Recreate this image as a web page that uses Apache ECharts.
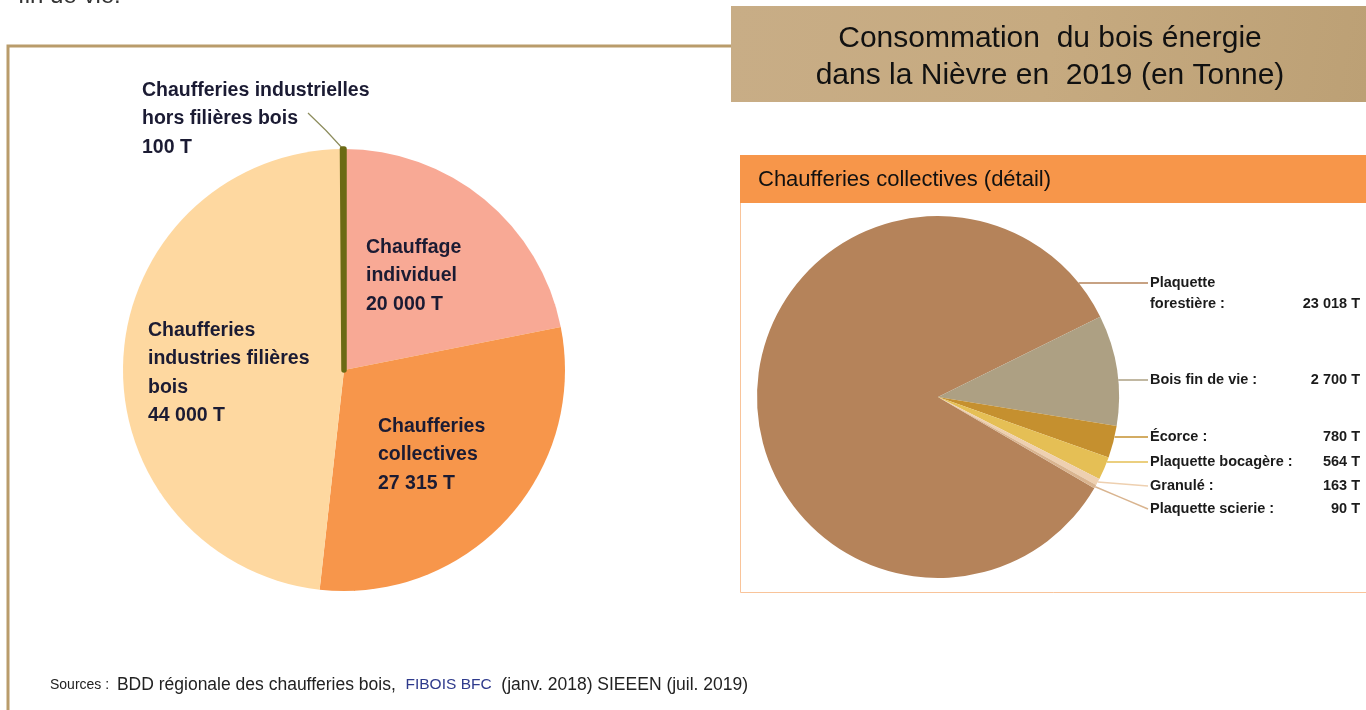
<!DOCTYPE html>
<html>
<head>
<meta charset="utf-8">
<script src="https://cdn.jsdelivr.net/npm/echarts@6/dist/echarts.min.js"></script>
<style>
html,body{margin:0;padding:0;background:#fff;}
#c{width:1366px;height:710px;}
</style>
</head>
<body>
<div id="c"></div>
<script>
// ---- Data ----
const mainNames = ["Chauffage individuel", "Chaufferies collectives", "Chaufferies industries filières bois", "Chaufferies industrielles hors filières bois"];
const mainLabels = ["Chauffage\nindividuel", "Chaufferies\ncollectives", "Chaufferies\nindustries filières\nbois", "Chaufferies industrielles\nhors filières bois"];
const mainValues = [20000, 27315, 44000, 100];
const mainColors = ["#F8A995", "#F7964B", "#FED8A0", "#6B6A14"];

const detailNames = ["Plaquette forestière", "Bois fin de vie", "Écorce", "Plaquette bocagère", "Granulé", "Plaquette scierie"];
const detailLabels = ["Plaquette\nforestière :", "Bois fin de vie :", "Écorce :", "Plaquette bocagère :", "Granulé :", "Plaquette scierie :"];
const detailValues = [23018, 2700, 780, 564, 163, 90];
const detailColors = ["#B5835A", "#ADA083", "#C5902F", "#E5BF55", "#EED0B0", "#D9B48F"];

const titleText = "Consommation  du bois énergie\ndans la Nièvre en  2019 (en Tonne)";
const panelTitle = "Chaufferies collectives (détail)";

// ---- Helpers ----
function fmt(v) { return String(v).replace(/\B(?=(\d{3})+(?!\d))/g, ' ') + ' T'; }

// layout constants
const L = { cx: 344, cy: 370, r: 221 };
const R = { cx: 938, cy: 397, r: 181 };
const mainLabelPos = [[366, 232], [378, 411], [148, 315], [142, 75]];
const detailLabelX = 1150;
const detailLineY = [283, 380, 437, 462, 486, 509];
const LH = 21;

const chart = echarts.init(document.getElementById('c'));

const mainData = mainValues.map((v, i) => {
  const item = {
    name: mainNames[i], value: v,
    itemStyle: { color: mainColors[i], borderWidth: 0 }
  };
  if (i === 3) {
    item.itemStyle = { color: mainColors[i], borderColor: mainColors[i], borderWidth: 5.5 };
    item.label = { position: 'outside' };
    item.labelLine = { show: true, lineStyle: { color: '#8C8C5C', width: 1.2 } };
  }
  return item;
});

const detailData = detailValues.map((v, i) => ({
  name: detailNames[i], value: v,
  itemStyle: { color: detailColors[i], borderWidth: 0 },
  labelLine: { show: true, lineStyle: { color: detailColors[i], width: 1.5 } }
}));

function arcXAtY(y) { return R.cx + Math.sqrt(R.r * R.r - (y - R.cy) * (y - R.cy)); }

const option = {
  animation: false,
  backgroundColor: '#fff',
  graphic: [
    { type: 'text', left: 18, top: -16, style: { text: 'fin de vie.', fontSize: 24, fill: '#333', fontFamily: 'Liberation Sans' } },
    { type: 'polyline', shape: { points: [[8, 712], [8, 46], [731, 46]] }, style: { stroke: '#B99C6B', lineWidth: 3, fill: null }, z: 1 },
    { type: 'rect', shape: { x: 731, y: 6, width: 636, height: 96 },
      style: { fill: new echarts.graphic.LinearGradient(0, 0, 1, 1, [
        { offset: 0, color: '#C8AD86' }, { offset: 0.5, color: '#C6AA80' }, { offset: 1, color: '#BCA075' }]) }, z: 2 },
    { type: 'text', x: 1050, y: 57, z: 3,
      style: { text: titleText, fontSize: 30, lineHeight: 37, fill: '#111', align: 'center', verticalAlign: 'middle', fontFamily: 'Liberation Sans' } },
    { type: 'rect', shape: { x: 740, y: 155, width: 626, height: 48 }, style: { fill: '#F7964A' }, z: 2 },
    { type: 'text', x: 758, y: 180, z: 3,
      style: { text: panelTitle, fontSize: 22, fill: '#111', verticalAlign: 'middle', fontFamily: 'Liberation Sans' } },
    { type: 'polyline', shape: { points: [[740.5, 203], [740.5, 592.5], [1366, 592.5]] }, style: { stroke: '#F9C49A', lineWidth: 1, fill: null }, z: 1 },
    { type: 'text', x: 50, y: 685, z: 3,
      style: { rich: {
          s: { fontSize: 14, fill: '#222', fontFamily: 'Liberation Sans' },
          t: { fontSize: 17.5, fill: '#222', fontFamily: 'Liberation Sans' },
          b: { fontSize: 15.5, fill: '#2E3A8C', fontFamily: 'Liberation Sans' } },
        text: '{s|Sources :  }{t|BDD régionale des chaufferies bois,  }{b|FIBOIS BFC}{t|  (janv. 2018) SIEEEN (juil. 2019)}',
        verticalAlign: 'middle' } }
  ],
  series: [
    {
      type: 'pie',
      center: [L.cx, L.cy],
      radius: [0, L.r],
      startAngle: 90,
      clockwise: true,
      avoidLabelOverlap: false,
      data: mainData,
      label: {
        show: true,
        position: 'inside',
        color: '#1B1B33',
        fontSize: 19.5,
        fontWeight: 'bold',
        lineHeight: 28.5,
        fontFamily: 'Liberation Sans',
        align: 'left',
        formatter: p => mainLabels[p.dataIndex] + '\n' + fmt(p.value)
      },
      labelLayout: p => {
        const pos = mainLabelPos[p.dataIndex];
        const o = { x: pos[0], y: pos[1] + 1, align: 'left', verticalAlign: 'top' };
        if (p.dataIndex === 3) {
          o.labelLinePoints = [[L.cx, L.cy - L.r + 1], [326, 130.5], [308, 113]];
        }
        return o;
      }
    },
    {
      type: 'pie',
      center: [R.cx, R.cy],
      radius: [0, R.r],
      startAngle: 329.7,
      clockwise: true,
      avoidLabelOverlap: false,
      data: detailData,
      label: {
        show: true,
        position: 'outside',
        fontFamily: 'Liberation Sans',
        fontSize: 14.5,
        color: '#1B1B1B',
        fontWeight: 'bold',
        lineHeight: LH,
        formatter: p => {
          const lines = detailLabels[p.dataIndex].split('\n');
          const last = lines.pop();
          let s = lines.map(l => '{n|' + l + '}').join('\n');
          if (s) s += '\n';
          return s + '{n|' + last + '}{v|' + fmt(p.value) + '}';
        },
        rich: {
          n: { width: 142, fontSize: 14.5, fontWeight: 'bold', color: '#1B1B1B', fontFamily: 'Liberation Sans', lineHeight: LH },
          v: { width: 68, align: 'right', fontSize: 14.5, fontWeight: 'bold', color: '#1B1B1B', fontFamily: 'Liberation Sans', lineHeight: LH }
        }
      },
      labelLayout: p => {
        const i = p.dataIndex;
        const ty = detailLineY[i];
        let anchor;
        if (i <= 3) {
          anchor = [arcXAtY(ty), ty];
        } else {
          const total = detailValues.reduce((a, b) => a + b, 0);
          let acc = 0;
          for (let k = 0; k < i; k++) acc += detailValues[k];
          const mid = 329.7 - (acc + detailValues[i] / 2) / total * 360;
          const rad = mid * Math.PI / 180;
          anchor = [R.cx + R.r * Math.cos(rad), R.cy - R.r * Math.sin(rad)];
        }
        return {
          x: detailLabelX, y: ty - LH / 2, align: 'left', verticalAlign: 'top',
          labelLinePoints: [anchor, [(anchor[0] + detailLabelX - 2) / 2, (anchor[1] + ty) / 2], [detailLabelX - 2, ty]]
        };
      }
    }
  ]
};
chart.setOption(option);
</script>
</body>
</html>
